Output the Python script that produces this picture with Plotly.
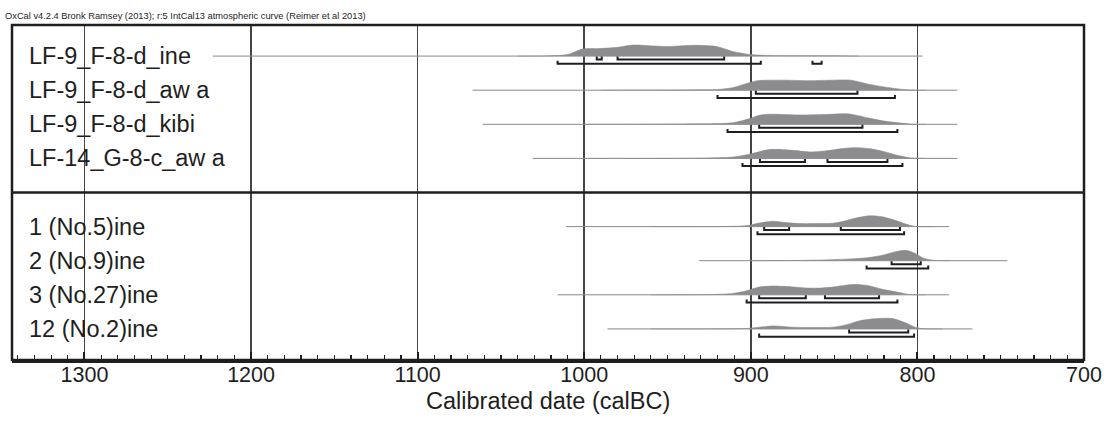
import plotly.graph_objects as go

# ---------------- data ----------------
labels = ["LF-9_F-8-d_ine", "LF-9_F-8-d_aw a", "LF-9_F-8-d_kibi", "LF-14_G-8-c_aw a",
          "1 (No.5)ine", "2 (No.9)ine", "3 (No.27)ine", "12 (No.2)ine"]
row_pos = [1, 2, 3, 4, 6, 7, 8, 9]

# calibrated probability distributions (year calBC, relative probability)
dist_years = [
    [1040, 1021, 1010, 1001, 991, 980, 971, 961, 950, 941, 931, 920, 911, 900, 890, 870, 850, 835],
    [990, 940, 920, 911, 900, 896, 881, 865, 851, 840, 830, 821, 810, 804, 795],
    [1000, 940, 920, 911, 900, 896, 890, 870, 855, 841, 830, 821, 810, 804, 795],
    [1000, 930, 911, 900, 890, 885, 875, 865, 855, 845, 836, 828, 820, 810, 804, 795],
    [960, 911, 902, 895, 887, 879, 871, 860, 851, 845, 837, 829, 821, 813, 807, 802, 790],
    [900, 871, 851, 830, 821, 813, 807, 801, 797, 791, 780],
    [960, 923, 911, 902.5, 895, 887, 876, 866, 858, 851, 839, 830, 821, 810, 805, 795],
    [960, 910, 902, 886, 875, 851, 843, 835, 824, 815, 807, 801, 797, 785],
]
dist_prob = [
    [0, 0.3, 1.5, 7, 7.5, 8.7, 11, 10.3, 9.5, 10.3, 10.7, 9.3, 4.7, 1.5, 0.7, 0.4, 0.3, 0],
    [0, 0.3, 0.7, 2.5, 8, 9.5, 10, 9.5, 10, 10, 6.3, 3.5, 1, 0.2, 0],
    [0, 0.3, 0.7, 1.5, 6, 8.5, 10, 9.3, 9.8, 10.3, 6.5, 3.5, 1.2, 0.2, 0],
    [0, 0.3, 1.3, 4.5, 8.5, 9, 8, 6.5, 7.5, 9.8, 10.7, 9.5, 6.7, 2.3, 0.5, 0],
    [0, 0.2, 1, 3.5, 5.3, 4, 3, 3, 3.3, 5, 8.5, 10.7, 9.7, 6, 2.5, 0.3, 0],
    [0, 0.3, 1, 3, 5.5, 9, 10.3, 7, 3, 0.5, 0],
    [0, 0.3, 1.3, 4, 7.7, 8.7, 8, 6.7, 6.7, 7.7, 10.3, 9.3, 5.5, 2, 0.3, 0],
    [0, 0.2, 0.5, 3, 1.7, 1.7, 4, 8, 10.3, 10.3, 6, 1.5, 0.3, 0],
]

# plotted span of each calibrated distribution
span_start = [1223, 1067, 1061, 1031, 1011, 931, 1016, 986]
span_end = [797, 776, 776, 776, 781, 746, 781, 767]

# 68.2% and 95.4% highest probability ranges (calBC)
ranges_68 = [
    [(992.5, 989.5), (980, 916)],
    [(897, 836)],
    [(895, 833)],
    [(894.5, 867.5), (854, 818)],
    [(892, 877), (846, 810.5)],
    [(815.5, 798)],
    [(895, 867), (855.5, 823)],
    [(841, 805.5)],
]
ranges_95 = [
    [(1016, 894), (863, 857.5)],
    [(920, 813.5)],
    [(914, 812)],
    [(905, 809)],
    [(896, 808)],
    [(830.5, 793.5)],
    [(902.5, 812)],
    [(895, 802)],
]

x_ticks = [1300, 1200, 1100, 1000, 900, 800, 700]
header = "OxCal v4.2.4 Bronk Ramsey (2013); r:5 IntCal13 atmospheric curve (Reimer et al 2013)"
x_title = "Calibrated date (calBC)"

# ---------------- styling ----------------
PX = 1 / 34.0          # one pixel in row units
FONT = "Liberation Sans, Arial, sans-serif"
DARK = "#1e1e1e"
FILL = "#8c8c8f"

fig = go.Figure()

for i, pos in enumerate(row_pos):
    # thin baseline
    fig.add_trace(go.Scatter(x=[span_start[i], span_end[i]], y=[pos, pos], mode="lines",
                             line=dict(color="#8a8a8a", width=1), hoverinfo="skip"))
    # distribution
    ys = [pos - p * PX for p in dist_prob[i]]
    fig.add_trace(go.Scatter(x=dist_years[i], y=ys, mode="lines", fill="toself",
                             fillcolor=FILL, line=dict(color=FILL, width=0.6, shape="spline",
                                                       smoothing=0.8),
                             hoverinfo="skip"))
    # range brackets
    for rngs, off in ((ranges_68[i], 3.5), (ranges_95[i], 7.7)):
        for a, b in rngs:
            yb = pos + off * PX
            yt = yb - 3 * PX
            fig.add_trace(go.Scatter(x=[a, a, b, b], y=[yt, yb, yb, yt], mode="lines",
                                     line=dict(color=DARK, width=2), hoverinfo="skip"))
    fig.add_annotation(text=labels[i], xref="paper", yref="y", x=0.014, y=pos,
                       xanchor="left", yanchor="middle", showarrow=False,
                       font=dict(family=FONT, size=23.5, color=DARK))

# frame and separator
fig.add_shape(type="rect", xref="paper", yref="paper", x0=0, x1=1, y0=0, y1=1,
              line=dict(color=DARK, width=2.5))
fig.add_shape(type="line", xref="paper", yref="y", x0=0, x1=1, y0=5, y1=5,
              line=dict(color=DARK, width=2.5))

fig.add_annotation(text=header, xref="paper", yref="paper", x=-0.008, y=1.027,
                   xanchor="left", yanchor="middle", showarrow=False,
                   font=dict(family=FONT, size=9.3, color=DARK))
fig.add_annotation(text=x_title, xref="paper", yref="paper", x=0.5, y=-0.122,
                   xanchor="center", yanchor="middle", showarrow=False,
                   font=dict(family=FONT, size=23.5, color=DARK))

fig.update_layout(
    width=1104, height=432,
    margin=dict(l=12, r=20, t=25, b=72),
    paper_bgcolor="white", plot_bgcolor="white",
    showlegend=False,
    xaxis=dict(range=[1343.5, 700], tickmode="array", tickvals=x_ticks,
               ticktext=[str(v) for v in x_ticks],
               ticks="inside", ticklen=8, tickwidth=2, tickcolor=DARK,
               ticklabelstandoff=-6,
               minor=dict(dtick=10, tick0=0, ticks="inside", ticklen=5, tickwidth=1.2,
                          tickcolor=DARK, showgrid=False),
               showgrid=True, gridcolor="#444444", gridwidth=1.5,
               showline=True, linecolor=DARK, linewidth=2.5,
               zeroline=False, automargin=False,
               tickfont=dict(family=FONT, size=21.5, color=DARK)),
    yaxis=dict(range=[9 + 31 / 34, 1 - 31 / 34], showgrid=False, zeroline=False,
               showticklabels=False, ticks="", showline=False),
)

# remove the page's default 8px body margin so the figure sits at the window origin
fig.write_html("out.html", config={"displayModeBar": False, "staticPlot": True},
               post_script="document.body.style.margin='0px';document.body.style.padding='0px';")
